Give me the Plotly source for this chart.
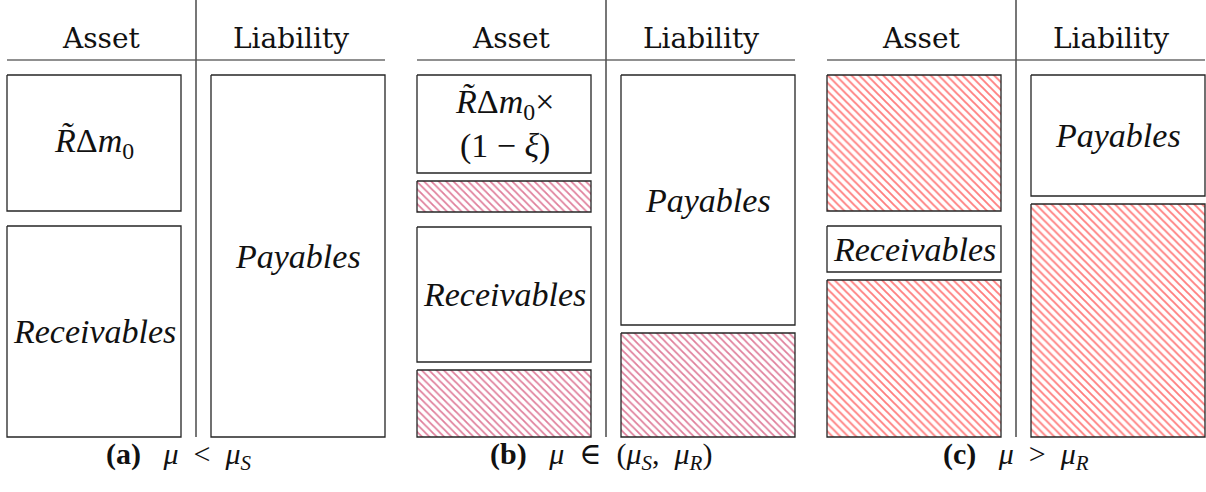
import plotly.graph_objects as go

# ---------------- data ----------------
panels = ["a", "b", "c"]
NB = "\u00a0"
captions = [f"<b>(a)</b>{NB*3}<i>μ</i>{NB*2}&lt;{NB*2}<i>μ</i><sub><i>S</i></sub>",
            f"<b>(b)</b>{NB*3}<i>μ</i>{NB*2}∈{NB*2}(<i>μ</i><sub><i>S</i></sub>,{NB*2}<i>μ</i><sub><i>R</i></sub>)",
            f"<b>(c)</b>{NB*3}<i>μ</i>{NB*2}&gt;{NB*2}<i>μ</i><sub><i>R</i></sub>"]
headers = ["Asset", "Liability"]

RDM = "<i>R̃</i>Δ<i>m</i><sub>0</sub>"
RDM_XI = "<i>R̃</i>Δ<i>m</i><sub>0</sub>×<br>(1 − <i>ξ</i>)"
REC = "<i>Receivables</i>"
PAY = "<i>Payables</i>"

# segment heights (top to bottom), hatched flags, labels, group (0: R~Δm0 part, 1: receivables part)
a_asset_heights = [136, 211]
a_asset_hatched = [False, False]
a_asset_labels = [RDM, REC]
a_asset_groups = [0, 1]
a_liab_heights = [362]
a_liab_hatched = [False]
a_liab_labels = [PAY]
a_liab_groups = [0]

b_asset_heights = [98, 31, 135, 67]
b_asset_hatched = [False, True, False, True]
b_asset_labels = [RDM_XI, "", REC, ""]
b_asset_groups = [0, 0, 1, 1]
b_liab_heights = [250, 104]
b_liab_hatched = [False, True]
b_liab_labels = [PAY, ""]
b_liab_groups = [0, 0]

c_asset_heights = [136, 46, 157]
c_asset_hatched = [True, False, True]
c_asset_labels = ["", REC, ""]
c_asset_groups = [0, 1, 1]
c_liab_heights = [121, 233]
c_liab_hatched = [False, True]
c_liab_labels = [PAY, ""]
c_liab_groups = [0, 0]

data = {
    "a": [(a_asset_heights, a_asset_hatched, a_asset_labels, a_asset_groups),
          (a_liab_heights, a_liab_hatched, a_liab_labels, a_liab_groups)],
    "b": [(b_asset_heights, b_asset_hatched, b_asset_labels, b_asset_groups),
          (b_liab_heights, b_liab_hatched, b_liab_labels, b_liab_groups)],
    "c": [(c_asset_heights, c_asset_hatched, c_asset_labels, c_asset_groups),
          (c_liab_heights, c_liab_hatched, c_liab_labels, c_liab_groups)],
}

# ---------------- layout / style ----------------
W, H = 1206, 492
panel_x0 = {"a": 7, "b": 417, "c": 827}
caption_x = {"a": 179, "b": 601, "c": 1016}
hatch_color = {"a": "#ff0000", "b": "#c00038", "c": "#ff0000"}
hatch_size = {"a": 5.4, "b": 5.2, "c": 5.6}
col_w = 174
col_off = [0, 204]
vline_off = 189
header_w = 378
top_y = 75
header_line_y = 60
vline_bottom = 437
gap_in, gap_between = 8, 15
border = "#262626"
FONT_HEAD = "DejaVu Serif"
FONT_LABEL = "Liberation Serif"
FONT_CAP = "Liberation Serif, DejaVu Serif, serif"

fig = go.Figure()
annotations = []

for pi, p in enumerate(panels):
    px = panel_x0[p]
    fig.add_trace(go.Scatter(x=[px, px + header_w], y=[header_line_y, header_line_y], mode="lines",
                             line=dict(color="#222222", width=1.2), hoverinfo="skip", showlegend=False))
    fig.add_trace(go.Scatter(x=[px + vline_off, px + vline_off], y=[0, vline_bottom], mode="lines",
                             line=dict(color="#555555", width=1.6), hoverinfo="skip", showlegend=False))
    hcent = [(px + px + vline_off) / 2, (px + vline_off + px + header_w) / 2]
    for hi, htxt in enumerate(headers):
        annotations.append(dict(x=hcent[hi], y=38, xref="x", yref="y", text=htxt, showarrow=False,
                                font=dict(family=FONT_HEAD, size=28, color="#111111"),
                                xanchor="center", yanchor="middle"))
    for ci, (heights, hatched, labels, groups) in enumerate(data[p]):
        x0 = px + col_off[ci]
        x1 = x0 + col_w
        y = top_y
        for si, h in enumerate(heights):
            if si > 0:
                y += gap_between if groups[si] != groups[si - 1] else gap_in
            y0, y1 = y, y + h
            kw = {}
            if hatched[si]:
                kw = dict(fill="toself", fillcolor="rgba(0,0,0,0)",
                          fillpattern=dict(shape="\\", fgcolor=hatch_color[p], bgcolor="white",
                                           size=hatch_size[p], solidity=0.34))
            fig.add_trace(go.Scatter(x=[x0, x1, x1, x0, x0], y=[y0, y0, y1, y1, y0], mode="lines",
                                     line=dict(color=border, width=1.3), hoverinfo="skip",
                                     showlegend=False, **kw))
            if labels[si]:
                annotations.append(dict(x=(x0 + x1) / 2, y=(y0 + y1) / 2, xref="x", yref="y",
                                        text=labels[si], showarrow=False,
                                        font=dict(family=FONT_LABEL, size=34, color="#111111"),
                                        xanchor="center", yanchor="middle"))
            y = y1
    annotations.append(dict(x=caption_x[p], y=456, xref="x", yref="y", text=captions[pi],
                            showarrow=False, font=dict(family=FONT_CAP, size=30, color="#111111"),
                            xanchor="center", yanchor="middle"))

fig.update_layout(
    width=W, height=H, margin=dict(l=0, r=0, t=0, b=0),
    paper_bgcolor="white", plot_bgcolor="white",
    font=dict(family=FONT_CAP),
    xaxis=dict(range=[0, W], visible=False, fixedrange=True),
    yaxis=dict(range=[H, 0], visible=False, fixedrange=True),
    annotations=annotations, showlegend=False,
)
fig.write_html("out.html", config={"displayModeBar": False})

with open("out.html", encoding="utf-8") as f:
    html = f.read()
html = html.replace("<body>", '<body style="margin:0;padding:0;">', 1)
with open("out.html", "w", encoding="utf-8") as f:
    f.write(html)
